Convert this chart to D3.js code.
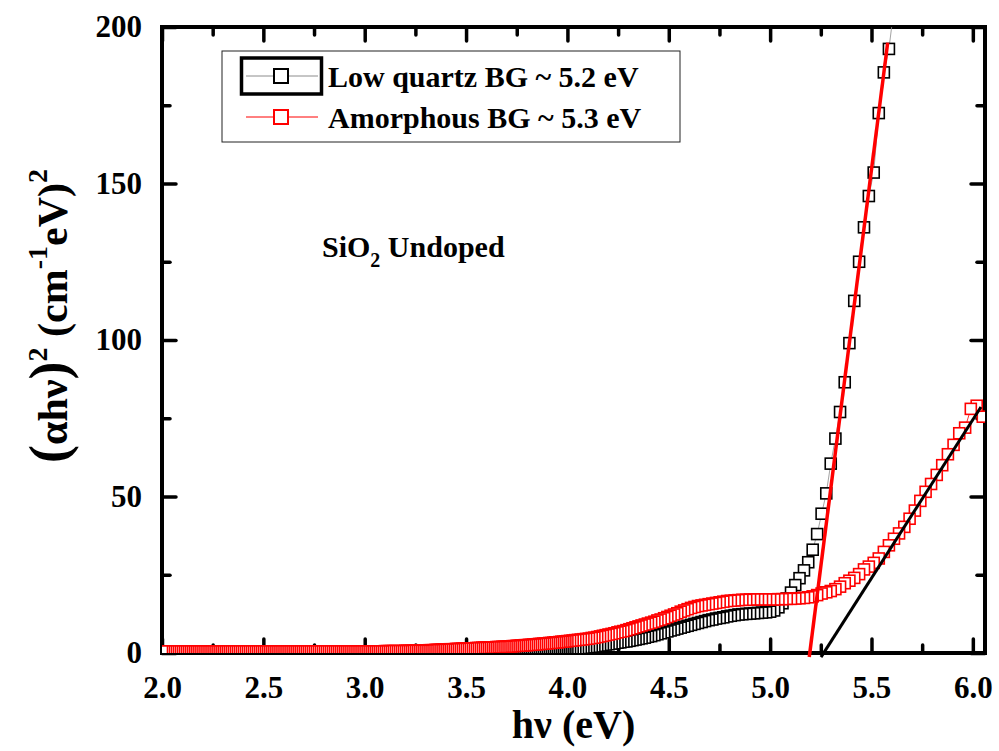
<!DOCTYPE html>
<html>
<head>
<meta charset="utf-8">
<script src="https://cdn.jsdelivr.net/npm/d3@7"></script>
<style>
  body { margin: 0; background: #fff; }
  svg { display: block; font-family: "Liberation Serif", "Times New Roman", serif; font-weight: bold; }
</style>
</head>
<body>
<svg id="chart" width="999" height="751"></svg>
<script>
// photon energy hv (eV), shared by both samples
const hv = [
  2.00, 2.01, 2.02, 2.03, 2.04, 2.05, 2.06, 2.07, 2.08, 2.09,
  2.10, 2.11, 2.12, 2.13, 2.14, 2.15, 2.16, 2.17, 2.18, 2.19,
  2.20, 2.21, 2.22, 2.23, 2.24, 2.25, 2.26, 2.27, 2.28, 2.29,
  2.30, 2.31, 2.32, 2.33, 2.34, 2.35, 2.36, 2.37, 2.38, 2.39,
  2.40, 2.41, 2.42, 2.43, 2.44, 2.45, 2.46, 2.47, 2.48, 2.49,
  2.50, 2.51, 2.52, 2.53, 2.54, 2.55, 2.56, 2.57, 2.58, 2.59,
  2.60, 2.61, 2.62, 2.63, 2.64, 2.65, 2.66, 2.67, 2.68, 2.69,
  2.70, 2.71, 2.72, 2.73, 2.74, 2.75, 2.76, 2.77, 2.78, 2.79,
  2.80, 2.81, 2.82, 2.83, 2.84, 2.85, 2.86, 2.87, 2.88, 2.89,
  2.90, 2.91, 2.92, 2.93, 2.94, 2.95, 2.96, 2.97, 2.98, 2.99,
  3.00, 3.01, 3.02, 3.03, 3.04, 3.05, 3.06, 3.07, 3.08, 3.09,
  3.10, 3.11, 3.12, 3.13, 3.14, 3.15, 3.16, 3.17, 3.18, 3.19,
  3.20, 3.21, 3.22, 3.23, 3.24, 3.25, 3.26, 3.27, 3.28, 3.29,
  3.30, 3.31, 3.32, 3.33, 3.34, 3.35, 3.36, 3.37, 3.38, 3.39,
  3.40, 3.41, 3.42, 3.43, 3.44, 3.45, 3.46, 3.47, 3.48, 3.49,
  3.50, 3.51, 3.52, 3.53, 3.54, 3.55, 3.56, 3.57, 3.58, 3.59,
  3.60, 3.61, 3.62, 3.63, 3.64, 3.65, 3.66, 3.67, 3.68, 3.69,
  3.70, 3.71, 3.72, 3.73, 3.74, 3.75, 3.76, 3.77, 3.78, 3.79,
  3.80, 3.81, 3.82, 3.83, 3.84, 3.85, 3.86, 3.87, 3.88, 3.89,
  3.90, 3.91, 3.92, 3.93, 3.94, 3.95, 3.96, 3.97, 3.98, 3.99,
  4.000, 4.013, 4.026, 4.039, 4.052, 4.066, 4.079, 4.092, 4.106, 4.120,
  4.133, 4.147, 4.161, 4.175, 4.189, 4.203, 4.218, 4.232, 4.247, 4.261,
  4.276, 4.291, 4.306, 4.321, 4.336, 4.351, 4.366, 4.382, 4.397, 4.413,
  4.429, 4.444, 4.460, 4.477, 4.493, 4.509, 4.526, 4.542, 4.559, 4.576,
  4.593, 4.610, 4.627, 4.644, 4.662, 4.679, 4.697, 4.715, 4.733, 4.751,
  4.769, 4.788, 4.806, 4.825, 4.844, 4.863, 4.882, 4.901, 4.921, 4.940,
  4.960, 4.980,
  5.000, 5.020, 5.041, 5.061, 5.082, 5.103, 5.124, 5.145, 5.167, 5.188,
  5.210, 5.232, 5.254, 5.277, 5.299, 5.322, 5.345, 5.368, 5.391, 5.415,
  5.439, 5.463, 5.487, 5.511, 5.536, 5.561, 5.586, 5.611, 5.636, 5.662,
  5.688, 5.714, 5.741, 5.767, 5.794, 5.822, 5.849, 5.877, 5.905, 5.933,
  5.962, 5.990, 6.019, 6.049
];

// (alpha hv)^2 for low quartz (black squares)
const lowQuartz = [
  0.1, 0.1, 0.1, 0.1, 0.1, 0.1, 0.1, 0.1, 0.1, 0.1,
  0.1, 0.1, 0.1, 0.1, 0.1, 0.1, 0.1, 0.1, 0.1, 0.1,
  0.1, 0.1, 0.1, 0.1, 0.1, 0.1, 0.1, 0.1, 0.1, 0.1,
  0.1, 0.1, 0.1, 0.1, 0.1, 0.1, 0.1, 0.1, 0.1, 0.1,
  0.1, 0.1, 0.1, 0.1, 0.1, 0.1, 0.1, 0.1, 0.1, 0.1,
  0.1, 0.1, 0.1, 0.1, 0.1, 0.1, 0.1, 0.1, 0.1, 0.1,
  0.1, 0.1, 0.1, 0.1, 0.1, 0.1, 0.1, 0.1, 0.1, 0.1,
  0.1, 0.1, 0.1, 0.1, 0.1, 0.1, 0.1, 0.1, 0.1, 0.1,
  0.1, 0.1, 0.1, 0.1, 0.1, 0.1, 0.1, 0.1, 0.1, 0.1,
  0.1, 0.1, 0.1, 0.1, 0.1, 0.1, 0.1, 0.1, 0.1, 0.1,
  0.1, 0.1, 0.1, 0.1, 0.1, 0.1, 0.1, 0.1, 0.1, 0.1,
  0.1, 0.1, 0.1, 0.1, 0.1, 0.1, 0.1, 0.1, 0.1, 0.1,
  0.1, 0.1, 0.1, 0.1, 0.1, 0.1, 0.1, 0.1, 0.1, 0.1,
  0.1, 0.1, 0.1, 0.1, 0.1, 0.1, 0.1, 0.1, 0.1, 0.1,
  0.1, 0.1, 0.1, 0.1, 0.1, 0.1, 0.1, 0.1, 0.1, 0.1,
  0.1, 0.1, 0.1, 0.1, 0.2, 0.2, 0.2, 0.2, 0.2, 0.2,
  0.2, 0.2, 0.3, 0.3, 0.3, 0.3, 0.3, 0.3, 0.3, 0.4,
  0.4, 0.4, 0.4, 0.4, 0.4, 0.5, 0.5, 0.5, 0.5, 0.5,
  0.5, 0.5, 0.5, 0.5, 0.6, 0.6, 0.6, 0.6, 0.6, 0.6,
  0.7, 0.7, 0.7, 0.8, 0.8, 0.8, 0.9, 0.9, 1.0, 1.0,
  1.1, 1.2, 1.3, 1.4, 1.5, 1.6, 1.7, 1.8, 1.9, 2.0,
  2.1, 2.3, 2.4, 2.6, 2.7, 2.8, 3.0, 3.1, 3.3, 3.4,
  3.6, 3.7, 3.9, 4.1, 4.3, 4.5, 4.7, 4.9, 5.2, 5.4,
  5.7, 6.0, 6.3, 6.6, 6.9, 7.2, 7.5, 7.8, 8.1, 8.4,
  8.7, 9.0, 9.3, 9.6, 9.9, 10.2, 10.5, 10.7, 11.0, 11.2,
  11.4, 11.7, 11.9, 12.1, 12.3, 12.4, 12.5, 12.6, 12.7, 12.8,
  12.9, 13.0,
  13.2, 13.6, 14.6, 15.9, 17.4, 19.3, 21.7, 23.9, 26.4, 29.0,
  33.0, 38.0, 44.5, 51.0, 60.5, 68.5, 77.0, 86.5, 99.0, 112.5,
  125.0, 136.0, 146.0, 153.5, 172.5, 185.5, 193.0, 206.0, null, null,
  null, null, null, null, null, null, null, null, null, null,
  null, null, null, null
];

// (alpha hv)^2 for amorphous (red squares)
const amorphous = [
  0.5, 0.5, 0.5, 0.5, 0.5, 0.5, 0.5, 0.5, 0.5, 0.5,
  0.5, 0.5, 0.5, 0.5, 0.5, 0.5, 0.5, 0.5, 0.5, 0.5,
  0.5, 0.5, 0.5, 0.5, 0.5, 0.5, 0.5, 0.5, 0.5, 0.5,
  0.5, 0.5, 0.5, 0.5, 0.5, 0.5, 0.5, 0.5, 0.5, 0.5,
  0.5, 0.5, 0.5, 0.5, 0.5, 0.5, 0.5, 0.5, 0.5, 0.5,
  0.5, 0.5, 0.5, 0.5, 0.5, 0.5, 0.5, 0.5, 0.5, 0.5,
  0.5, 0.5, 0.5, 0.5, 0.5, 0.5, 0.5, 0.5, 0.5, 0.5,
  0.5, 0.5, 0.5, 0.5, 0.5, 0.5, 0.5, 0.5, 0.5, 0.5,
  0.5, 0.5, 0.5, 0.5, 0.5, 0.5, 0.5, 0.5, 0.5, 0.5,
  0.5, 0.5, 0.5, 0.5, 0.5, 0.5, 0.5, 0.5, 0.5, 0.5,
  0.5, 0.5, 0.5, 0.5, 0.5, 0.5, 0.5, 0.5, 0.5, 0.5,
  0.6, 0.6, 0.6, 0.6, 0.6, 0.6, 0.6, 0.6, 0.6, 0.6,
  0.7, 0.7, 0.7, 0.7, 0.7, 0.7, 0.7, 0.7, 0.7, 0.7,
  0.8, 0.8, 0.9, 0.9, 0.9, 1.0, 1.0, 1.0, 1.1, 1.1,
  1.1, 1.1, 1.2, 1.2, 1.2, 1.3, 1.3, 1.3, 1.4, 1.4,
  1.4, 1.4, 1.5, 1.5, 1.5, 1.6, 1.6, 1.6, 1.7, 1.7,
  1.7, 1.7, 1.8, 1.8, 1.8, 1.9, 1.9, 1.9, 2.0, 2.0,
  2.0, 2.1, 2.1, 2.2, 2.2, 2.3, 2.3, 2.4, 2.4, 2.5,
  2.5, 2.6, 2.6, 2.7, 2.7, 2.8, 2.9, 2.9, 3.0, 3.0,
  3.1, 3.2, 3.2, 3.3, 3.4, 3.4, 3.5, 3.6, 3.6, 3.7,
  3.8, 3.9, 4.0, 4.1, 4.2, 4.3, 4.4, 4.5, 4.6, 4.8,
  4.9, 5.1, 5.3, 5.5, 5.7, 5.9, 6.1, 6.3, 6.6, 6.8,
  7.0, 7.3, 7.6, 7.9, 8.2, 8.5, 8.8, 9.1, 9.4, 9.7,
  10.0, 10.4, 10.7, 11.1, 11.5, 11.9, 12.3, 12.7, 13.2, 13.6,
  14.0, 14.4, 14.7, 15.0, 15.2, 15.4, 15.6, 15.8, 16.0, 16.2,
  16.4, 16.6, 16.7, 16.8, 16.9, 17.0, 17.0, 17.1, 17.1, 17.1,
  17.1, 17.1,
  17.1, 17.1, 17.2, 17.2, 17.3, 17.3, 17.4, 17.5, 17.6, 17.8,
  18.1, 18.5, 19.0, 19.4, 19.8, 20.4, 21.2, 22.3, 23.1, 24.0,
  25.2, 26.7, 27.6, 28.8, 30.2, 32.3, 34.4, 36.5, 38.2, 40.3,
  42.9, 45.5, 48.6, 51.5, 54.0, 56.9, 60.0, 63.5, 66.5, 70.2,
  72.0, 78.0, 79.0, 75.5
];

// linear extrapolations to the energy axis (end points, eV and (alpha hv)^2)
const quartzFit = [[5.193, -1.3], [5.580, 195.0]];
const amorphousFit = [[5.251, -1.3], [6.040, 78.6]];

const xMajorTicks = [2.0, 2.5, 3.0, 3.5, 4.0, 4.5, 5.0, 5.5, 6.0];
const xMinorTicks = [2.25, 2.75, 3.25, 3.75, 4.25, 4.75, 5.25, 5.75];
const yMajorTicks = [0, 50, 100, 150, 200];
const yMinorTicks = [25, 75, 125, 175];

const legendLabels = ['Low quartz BG ~ 5.2 eV', 'Amorphous BG ~ 5.3 eV'];

const plot = {left: 162, right: 985, top: 27, bottom: 653};
const svg = d3.select('#chart');
svg.append('rect').attr('width', 999).attr('height', 751).attr('fill', '#fff');

const x = d3.scaleLinear().domain([2.0, 6.06]).range([plot.left, plot.right]);
const y = d3.scaleLinear().domain([0, 200]).range([plot.bottom, plot.top]);

svg.append('clipPath').attr('id', 'plotClip')
  .append('rect')
  .attr('x', plot.left).attr('y', plot.top)
  .attr('width', plot.right - plot.left).attr('height', plot.bottom - plot.top);

// axes: ticks point inward, mirrored on top and right
function styleAxis(g) {
  g.select('.domain').remove();
  g.selectAll('.tick line').attr('stroke', '#000').attr('stroke-width', 3.5).attr('stroke-linecap', 'round');
  g.selectAll('.tick text')
    .attr('fill', '#000')
    .style('font-family', '"Liberation Serif", "Times New Roman", serif')
    .style('font-weight', 'bold')
    .style('font-size', '31px');
}

svg.append('rect')
  .attr('x', plot.left).attr('y', plot.top)
  .attr('width', plot.right - plot.left).attr('height', plot.bottom - plot.top)
  .attr('fill', 'none').attr('stroke', '#000').attr('stroke-width', 4);

svg.append('g').attr('transform', `translate(0,${plot.bottom})`)
  .call(d3.axisBottom(x).tickValues(xMajorTicks).tickSize(-14).tickPadding(23).tickFormat(d3.format('.1f')))
  .call(styleAxis);
svg.append('g').attr('transform', `translate(0,${plot.bottom})`)
  .call(d3.axisBottom(x).tickValues(xMinorTicks).tickSize(-8).tickFormat(''))
  .call(styleAxis);
svg.append('g').attr('transform', `translate(0,${plot.top})`)
  .call(d3.axisTop(x).tickValues(xMajorTicks).tickSize(-14).tickFormat(''))
  .call(styleAxis);
svg.append('g').attr('transform', `translate(0,${plot.top})`)
  .call(d3.axisTop(x).tickValues(xMinorTicks).tickSize(-8).tickFormat(''))
  .call(styleAxis);

svg.append('g').attr('transform', `translate(${plot.left},0)`)
  .call(d3.axisLeft(y).tickValues(yMajorTicks).tickSize(-14).tickPadding(20).tickFormat(d3.format('d')))
  .call(styleAxis);
svg.append('g').attr('transform', `translate(${plot.left},0)`)
  .call(d3.axisLeft(y).tickValues(yMinorTicks).tickSize(-8).tickFormat(''))
  .call(styleAxis);
svg.append('g').attr('transform', `translate(${plot.right},0)`)
  .call(d3.axisRight(y).tickValues(yMajorTicks).tickSize(-14).tickFormat(''))
  .call(styleAxis);
svg.append('g').attr('transform', `translate(${plot.right},0)`)
  .call(d3.axisRight(y).tickValues(yMinorTicks).tickSize(-8).tickFormat(''))
  .call(styleAxis);

const series = [
  {name: legendLabels[0], values: lowQuartz, color: '#000', lineColor: '#8c8c8c'},
  {name: legendLabels[1], values: amorphous, color: '#ff0000', lineColor: '#ff0000'}
];

const line = d3.line()
  .defined(d => d.v !== null)
  .x(d => x(d.e))
  .y(d => y(d.v));

// data sits on top of the frame, clipped at the axis lines
const dataG = svg.append('g').attr('clip-path', 'url(#plotClip)');
const sq = 11;

series.forEach(s => {
  const pts = hv.map((e, i) => ({e: e, v: s.values[i]}));
  dataG.append('path')
    .datum(pts)
    .attr('d', line)
    .attr('fill', 'none')
    .attr('stroke', s.lineColor)
    .attr('stroke-width', 0.8);
  // drawn from high to low energy, so the square at 2.0 eV ends on top
  dataG.append('g')
    .selectAll('rect')
    .data(pts.filter(d => d.v !== null).reverse())
    .join('rect')
    .attr('x', d => x(d.e) - sq / 2)
    .attr('y', d => y(d.v) - sq / 2)
    .attr('width', sq)
    .attr('height', sq)
    .attr('fill', '#fff')
    .attr('stroke', s.color)
    .attr('stroke-width', 1.6);
});

// fitted lines
const fitLine = d3.line().x(d => x(d[0])).y(d => y(d[1]));
svg.append('path').datum(quartzFit).attr('d', fitLine)
  .attr('stroke', '#ff0000').attr('stroke-width', 3.5).attr('fill', 'none');
svg.append('path').datum(amorphousFit).attr('d', fitLine)
  .attr('stroke', '#000').attr('stroke-width', 3).attr('fill', 'none');

// legend
const legend = svg.append('g');
legend.append('rect')
  .attr('x', 222).attr('y', 51).attr('width', 458).attr('height', 91)
  .attr('fill', '#fff').attr('stroke', '#222').attr('stroke-width', 1);

series.forEach((s, i) => {
  const cy = 76 + i * 41;
  legend.append('line')
    .attr('x1', 246).attr('x2', 318).attr('y1', cy).attr('y2', cy)
    .attr('stroke', s.lineColor).attr('stroke-width', 1);
  legend.append('rect')
    .attr('x', 281 - 7).attr('y', cy - 7).attr('width', 14).attr('height', 14)
    .attr('fill', '#fff').attr('stroke', s.color).attr('stroke-width', 2);
  legend.append('text')
    .attr('x', 328).attr('y', cy + 11)
    .attr('font-size', 30)
    .text(s.name);
});
// selection box around the first legend symbol
legend.append('rect')
  .attr('x', 241.5).attr('y', 58).attr('width', 80).attr('height', 36)
  .attr('fill', 'none').attr('stroke', '#000').attr('stroke-width', 3.5);

// sample label
const note = svg.append('text').attr('x', 322).attr('y', 257).attr('font-size', 30);
note.append('tspan').text('SiO');
note.append('tspan').attr('font-size', 20).attr('dy', 10).text('2');
note.append('tspan').attr('dy', -10).text(' Undoped');

// axis titles
svg.append('text')
  .attr('x', (plot.left + plot.right) / 2).attr('y', 738)
  .attr('text-anchor', 'middle').attr('font-size', 40)
  .text('h\u03bd (eV)');

const yTitle = svg.append('text')
  .attr('transform', 'translate(67,316) rotate(-90)')
  .attr('text-anchor', 'middle').attr('font-size', 42);
yTitle.append('tspan').attr('font-size', 54).text('(');
yTitle.append('tspan').text('\u03b1h\u03bd');
yTitle.append('tspan').attr('font-size', 54).text(')');
yTitle.append('tspan').attr('font-size', 28).attr('dy', -20).text('2');
yTitle.append('tspan').attr('dy', 20).text(' (cm');
yTitle.append('tspan').attr('font-size', 28).attr('dy', -20).text('-1');
yTitle.append('tspan').attr('dy', 20).text('eV)');
yTitle.append('tspan').attr('font-size', 28).attr('dy', -20).text('2');
</script>
</body>
</html>
